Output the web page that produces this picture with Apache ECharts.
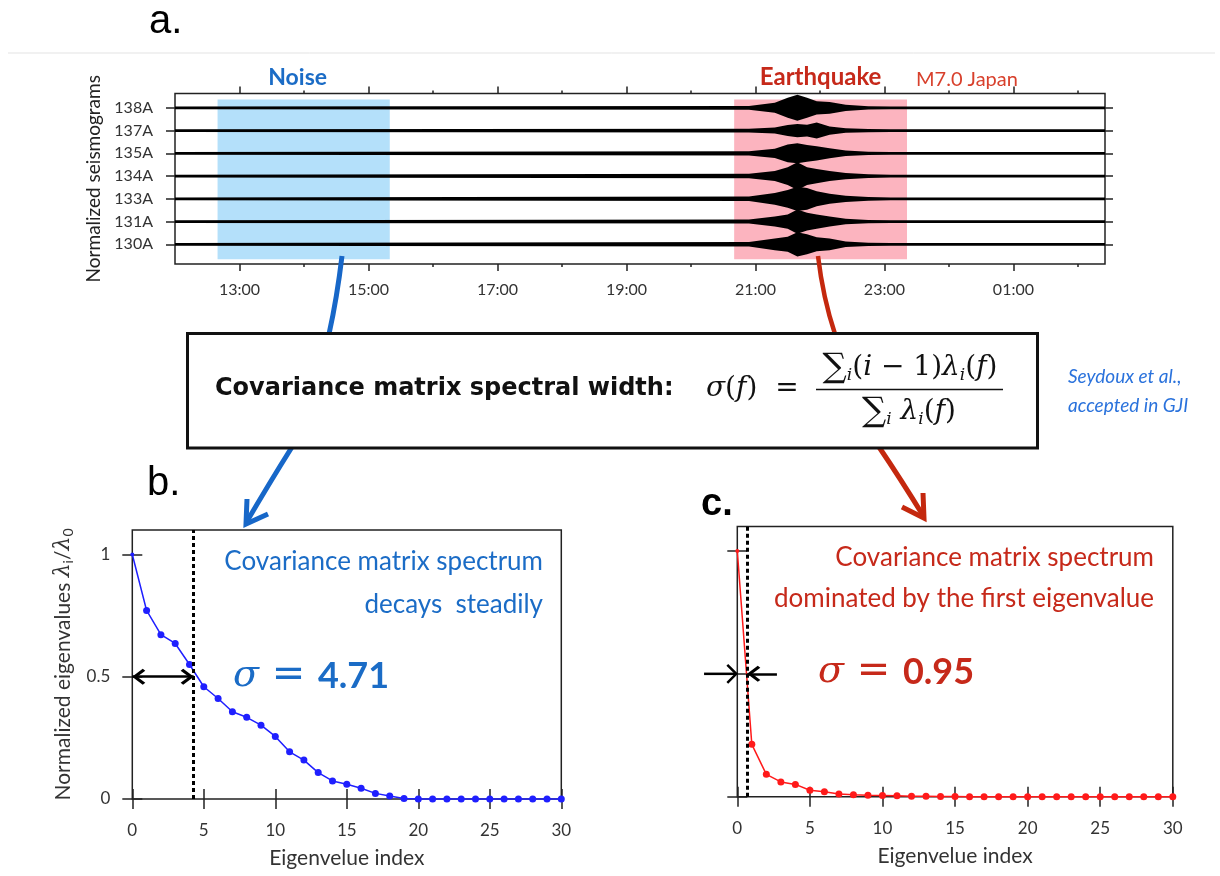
<!DOCTYPE html>
<html>
<head>
<meta charset="utf-8">
<script src="https://cdn.jsdelivr.net/npm/echarts@6/dist/echarts.min.js"></script>
<style>
  html, body { margin: 0; padding: 0; background: #fff; }
  #main { width: 1220px; height: 876px; }
</style>
</head>
<body>
<div id="main"></div>
<script>
// ---- panel a: seismograms (envelope, half-amplitude in trace units) ----
const stations = ['130A', '131A', '133A', '134A', '135A', '137A', '138A'] // bottom -> top
const envTimes = [12.0, 20.9, 21.3, 21.5, 21.65, 21.8, 21.95, 22.15, 22.4, 22.75, 23.1, 26.42]
const amp130A = [0.06, 0.10, 0.26, 0.33, 0.53, 0.44, 0.31, 0.26, 0.12, 0.07, 0.06, 0.06]
const amp131A = [0.06, 0.09, 0.22, 0.31, 0.53, 0.39, 0.31, 0.22, 0.12, 0.07, 0.06, 0.06]
const amp133A = [0.06, 0.10, 0.26, 0.39, 0.53, 0.48, 0.33, 0.22, 0.14, 0.08, 0.06, 0.06]
const amp134A = [0.06, 0.10, 0.22, 0.39, 0.61, 0.39, 0.31, 0.22, 0.14, 0.08, 0.06, 0.06]
const amp135A = [0.06, 0.09, 0.20, 0.39, 0.44, 0.37, 0.31, 0.22, 0.12, 0.07, 0.06, 0.06]
const amp137A = [0.06, 0.08, 0.13, 0.24, 0.29, 0.26, 0.35, 0.18, 0.10, 0.07, 0.06, 0.06]
const amp138A = [0.06, 0.08, 0.22, 0.44, 0.57, 0.44, 0.29, 0.26, 0.14, 0.07, 0.06, 0.06]
const envelopes = [amp130A, amp131A, amp133A, amp134A, amp135A, amp137A, amp138A]
const hourMajor = [13, 15, 17, 19, 21, 23, 25]
const hourMinor = [14, 16, 18, 20, 22, 24, 26]
const noiseWin = [12.66, 15.33]
const quakeWin = [20.67, 23.35]

// ---- panels b and c: normalized eigenvalues ----
const eigIndex = Array.from({ length: 31 }, (_, i) => i)
const noiseEig = [1.0, 0.771, 0.672, 0.636, 0.550, 0.459, 0.411, 0.357, 0.334, 0.302, 0.256,
  0.193, 0.159, 0.108, 0.074, 0.060, 0.044, 0.023, 0.012, 0.002, 0, 0, 0, 0, 0, 0, 0, 0, 0, 0, 0]
const quakeEig = [1.0, 0.213, 0.091, 0.060, 0.050, 0.026, 0.020, 0.011, 0.008, 0.006, 0.005,
  0.004, 0.002, 0.002, 0.001, 0.001, 0, 0, 0, 0, 0, 0, 0, 0, 0, 0, 0, 0, 0, 0, 0]
const eigTicks = [0, 0.5, 1]
const noiseSigmaX = 4.29
const quakeSigmaX = 0.69

const BLUE = '#1b6cc6'
const RED = '#c6291a'
const chevron = 'path://M0,-12 M0,0L10,10L7.6,12.4L0,4.8L-7.6,12.4L-10,10Z'

const myChart = echarts.init(document.getElementById('main'))

const hourLabel = (v) => String(v % 24).padStart(2, '0') + ':00'

const noAxisLine = { show: false }
const noSplit = { show: false }
const tickLine = { color: '#222', width: 1.5 }

function tickAxis(extra) {
  return Object.assign({
    type: 'value',
    axisLine: noAxisLine,
    splitLine: noSplit,
    axisLabel: { show: false },
  }, extra)
}

const option = {
  animation: false,
  backgroundColor: '#fff',
  textStyle: { fontFamily: 'Lato' },
  grid: [
    { left: 175, top: 93.5, width: 930, height: 170.5, show: true, borderColor: '#222', borderWidth: 1.5 },
    { left: 132.3, top: 530, width: 429, height: 269, show: true, borderColor: '#222', borderWidth: 1.5 },
    { left: 737.3, top: 526.4, width: 435.5, height: 270.3, show: true, borderColor: '#222', borderWidth: 1.5 },
  ],
  xAxis: [
    // seismogram time axis (bottom, labelled at odd hours)
    tickAxis({
      gridIndex: 0, position: 'bottom', min: 12, max: 26.42,
      axisTick: { customValues: hourMajor, length: 7, lineStyle: tickLine },
      axisLabel: { show: true, customValues: hourMajor, formatter: hourLabel, fontSize: 16, color: '#333', margin: 18 },
    }),
    tickAxis({
      gridIndex: 0, position: 'bottom', min: 12, max: 26.42,
      axisTick: { customValues: hourMinor, length: 3, lineStyle: tickLine },
    }),
    tickAxis({
      gridIndex: 0, position: 'top', min: 12, max: 26.42,
      axisTick: { customValues: hourMajor, length: 7, lineStyle: tickLine },
    }),
    tickAxis({
      gridIndex: 0, position: 'top', min: 12, max: 26.42,
      axisTick: { customValues: hourMinor, length: 3, lineStyle: tickLine },
    }),
    // panel b
    tickAxis({
      gridIndex: 1, position: 'bottom', min: 0, max: 30, interval: 5,
      axisTick: { length: 10, lineStyle: tickLine },
      axisLabel: { show: true, fontSize: 17, color: '#333', margin: 23 },
      name: 'Eigenvelue index', nameLocation: 'middle', nameGap: 49,
      nameTextStyle: { fontSize: 21, color: '#333' },
    }),
    tickAxis({
      gridIndex: 1, position: 'top', min: 0, max: 30, interval: 5,
      axisTick: { length: 10, lineStyle: tickLine },
    }),
    // panel c
    tickAxis({
      gridIndex: 2, position: 'bottom', min: 0, max: 30, interval: 5,
      axisTick: { length: 10, lineStyle: tickLine },
      axisLabel: { show: true, fontSize: 17, color: '#333', margin: 23 },
      name: 'Eigenvelue index', nameLocation: 'middle', nameGap: 49,
      nameTextStyle: { fontSize: 21, color: '#333' },
    }),
    tickAxis({
      gridIndex: 2, position: 'top', min: 0, max: 30, interval: 5,
      axisTick: { length: 10, lineStyle: tickLine },
    }),
  ],
  yAxis: [
    tickAxis({
      gridIndex: 0, position: 'left', min: 0.135, max: 7.63,
      axisTick: { customValues: [1, 2, 3, 4, 5, 6, 7], length: 9, lineStyle: tickLine },
      axisLabel: {
        show: true, customValues: [1, 2, 3, 4, 5, 6, 7],
        formatter: (v) => stations[Math.round(v) - 1], fontSize: 16, color: '#333', margin: 22,
      },
      name: 'Normalized seismograms', nameLocation: 'middle', nameGap: 67,
      nameTextStyle: { fontSize: 19, color: '#222' },
    }),
    tickAxis({
      gridIndex: 0, position: 'right', min: 0.135, max: 7.63,
      axisTick: { customValues: [1, 2, 3, 4, 5, 6, 7], length: 8, lineStyle: tickLine },
    }),
    tickAxis({
      gridIndex: 1, position: 'left', min: 0, max: 1.1,
      axisTick: { customValues: eigTicks, length: 10, lineStyle: tickLine },
      axisLabel: { show: true, customValues: eigTicks, fontSize: 17, color: '#333', margin: 22 },
      name: '{t|Normalized eigenvalues }{m|λ}{s|i}{t|/}{m|λ}{s|0}', nameLocation: 'middle', nameGap: 57,
      nameTextStyle: {
        rich: {
          t: { fontSize: 21, color: '#333', fontFamily: 'Lato' },
          m: { fontSize: 22, color: '#333', fontFamily: 'DejaVu Serif', fontStyle: 'italic' },
          s: { fontSize: 14, color: '#333', fontFamily: 'Lato', padding: [11, 0, 0, 0] },
        },
      },
    }),
    tickAxis({
      gridIndex: 1, position: 'right', min: 0, max: 1.1,
      axisTick: { customValues: eigTicks, length: 10, lineStyle: tickLine },
    }),
    tickAxis({
      gridIndex: 2, position: 'left', min: 0, max: 1.1,
      axisTick: { customValues: eigTicks, length: 10, lineStyle: tickLine },
    }),
    tickAxis({
      gridIndex: 2, position: 'right', min: 0, max: 1.1,
      axisTick: { customValues: eigTicks, length: 10, lineStyle: tickLine },
    }),
  ],
  series: [
    // analysis windows
    {
      type: 'line', xAxisIndex: 0, yAxisIndex: 0, data: [], z: 1, silent: true,
      markArea: {
        silent: true,
        data: [
          [{ xAxis: noiseWin[0], yAxis: 0.34, itemStyle: { color: '#b4e0fa', opacity: 1 },
             label: { show: true, position: 'top', distance: 10, offset: [-6, 0], formatter: 'Noise', color: BLUE, fontSize: 23, fontWeight: 'bold' } },
           { xAxis: noiseWin[1], yAxis: 7.37 }],
          [{ xAxis: quakeWin[0], yAxis: 0.34, itemStyle: { color: '#fcb4bf', opacity: 1 },
             label: { show: true, position: 'top', distance: 10, formatter: 'Earthquake', color: RED, fontSize: 24, fontWeight: 'bold' } },
           { xAxis: quakeWin[1], yAxis: 7.37 }],
        ],
      },
    },
    // seismogram traces drawn as amplitude envelopes around each baseline
    {
      type: 'custom', xAxisIndex: 0, yAxisIndex: 0, z: 3, silent: true,
      data: stations.map((s, k) => [12, k + 1]),
      renderItem: (params, api) => {
        const base = api.value(1)
        const amps = envelopes[params.dataIndex]
        const top = envTimes.map((t, j) => api.coord([t, base + amps[j]]))
        const bottom = envTimes.map((t, j) => api.coord([t, base - amps[j]])).reverse()
        return { type: 'polygon', shape: { points: top.concat(bottom) }, style: { fill: '#000' } }
      },
    },
    // panel b
    {
      type: 'line', xAxisIndex: 4, yAxisIndex: 2, clip: false, z: 4,
      data: eigIndex.map((i) => [i, noiseEig[i]]),
      symbol: 'circle',
      symbolSize: (v, p) => (p.dataIndex === 0 ? 4 : 7),
      lineStyle: { color: '#1f1fff', width: 1.5 },
      itemStyle: { color: '#1f1fff' },
      markLine: {
        silent: true, symbol: 'none', label: { show: false },
        data: [
          { xAxis: noiseSigmaX, lineStyle: { color: '#000', width: 3, type: [4, 3] } },
          [{ coord: [0, 0.5], symbol: chevron, symbolSize: [16, 26], lineStyle: { color: '#000', width: 2.5, type: 'solid' } },
           { coord: [noiseSigmaX, 0.5], symbol: chevron, symbolSize: [16, 26] }],
        ],
      },
    },
    // panel c
    {
      type: 'line', xAxisIndex: 6, yAxisIndex: 4, clip: false, z: 4,
      data: eigIndex.map((i) => [i, quakeEig[i]]),
      symbol: 'circle',
      symbolSize: (v, p) => (p.dataIndex === 0 ? 4 : 7),
      lineStyle: { color: '#ff1a1a', width: 1.5 },
      itemStyle: { color: '#ff1a1a' },
      markLine: {
        silent: true, symbol: 'none', label: { show: false },
        data: [
          { xAxis: quakeSigmaX, lineStyle: { color: '#000', width: 3, type: [4, 3] } },
          [{ coord: [2.73, 0.5], symbol: 'none', lineStyle: { color: '#000', width: 2.5, type: 'solid' } },
           { coord: [quakeSigmaX, 0.5], symbol: chevron, symbolSize: [16, 26] }],
        ],
      },
    },
  ],
}

myChart.setOption(option)

// annotation layer: labels, formula box and the linking arrows
const leftArrowFrom = myChart.convertToPixel({ gridIndex: 2 }, [-2.29, 0.5])
const leftArrowTo = myChart.convertToPixel({ gridIndex: 2 }, [0, 0.5])

function txt(x, y, text, style) {
  return {
    type: 'text', x: x, y: y, z: 50,
    style: Object.assign({ text: text, textAlign: 'left', textVerticalAlign: 'middle', align: 'left', verticalAlign: 'middle' }, style),
  }
}

const mathRich = {
  i: { fontFamily: 'DejaVu Serif', fontStyle: 'italic', fontSize: 28, fill: '#111' },
  r: { fontFamily: 'DejaVu Serif', fontSize: 28, fill: '#111' },
  g: { fontFamily: 'DejaVu Serif', fontSize: 34, fill: '#111' },
  s: { fontFamily: 'DejaVu Serif', fontStyle: 'italic', fontSize: 17, fill: '#111', padding: [16, 0, 0, 0] },
}

myChart.setOption({
  graphic: [
    { type: 'line', z: 0, shape: { x1: 8, y1: 53, x2: 1215, y2: 53 }, style: { stroke: '#e3e3e3', lineWidth: 1 } },
    txt(149, 22, 'a.', { font: '40px "Liberation Sans"', fill: '#000' }),
    txt(147, 484, 'b.', { font: '40px "Liberation Sans"', fill: '#000' }),
    txt(701, 505, 'c.', { font: 'bold 38px "Liberation Sans"', fill: '#000' }),
    txt(916, 80, 'M7.0 Japan', { font: '20px Lato', fill: '#d8402c' }),

    // arrows from the windows to the panels
    { type: 'bezierCurve', z: 5, shape: { x1: 342, y1: 256, x2: 329, y2: 334, cpx1: 337, cpy1: 298 },
      style: { stroke: '#1767c8', lineWidth: 5, fill: null } },
    { type: 'bezierCurve', z: 5, shape: { x1: 292, y1: 447, x2: 246, y2: 523, cpx1: 270, cpy1: 482 },
      style: { stroke: '#1767c8', lineWidth: 5, fill: null } },
    { type: 'polyline', z: 5, shape: { points: [[268, 514], [246, 524], [247, 499]] },
      style: { stroke: '#1767c8', lineWidth: 5, fill: null } },
    { type: 'bezierCurve', z: 5, shape: { x1: 818, y1: 256, x2: 835, y2: 334, cpx1: 823, cpy1: 298 },
      style: { stroke: '#c4280e', lineWidth: 4.5, fill: null } },
    { type: 'bezierCurve', z: 5, shape: { x1: 879, y1: 447, x2: 924, y2: 517, cpx1: 900, cpy1: 478 },
      style: { stroke: '#c4280e', lineWidth: 5, fill: null } },
    { type: 'polyline', z: 5, shape: { points: [[902, 507], [924, 518], [923, 493]] },
      style: { stroke: '#c4280e', lineWidth: 5, fill: null } },

    // formula box
    { type: 'rect', z: 10, shape: { x: 187.5, y: 333.5, width: 850, height: 114.5 },
      style: { fill: '#fff', stroke: '#111', lineWidth: 3 } },
    txt(215, 389, 'Covariance matrix spectral width:', { font: 'bold 24px "DejaVu Sans"', fill: '#111' }),
    txt(706, 389, '{i|σ}{r|(}{i|f}{r|)  =}', { fill: '#111', rich: mathRich }),
    txt(910, 368, '{g|∑}{s|i}{r|(}{i|i}{r| − 1)}{i|λ}{s|i}{r|(}{i|f}{r|)}', {
      textAlign: 'center', align: 'center', fill: '#111', rich: mathRich,
    }),
    { type: 'line', z: 11, shape: { x1: 816, y1: 389.5, x2: 1003, y2: 389.5 }, style: { stroke: '#111', lineWidth: 1.5 } },
    txt(909, 412, '{g|∑}{s|i}{r| }{i|λ}{s|i}{r|(}{i|f}{r|)}', {
      textAlign: 'center', align: 'center', fill: '#111', rich: mathRich,
    }),
    txt(1068, 377, 'Seydoux et al.,', { font: 'italic 19px Lato', fill: '#2a72dc' }),
    txt(1068, 406, 'accepted in GJI', { font: 'italic 19px Lato', fill: '#2a72dc' }),

    // panel b notes
    txt(543, 562, 'Covariance matrix spectrum', { textAlign: 'right', align: 'right', font: '26px Lato', fill: BLUE }),
    txt(543, 605, 'decays  steadily', { textAlign: 'right', align: 'right', font: '26px Lato', fill: BLUE }),
    txt(233, 676, '{s|σ}{e| = }{n|4.71}', {
      fill: BLUE,
      rich: {
        s: { fontFamily: 'DejaVu Serif', fontStyle: 'italic', fontSize: 38, fill: BLUE },
        e: { fontFamily: 'DejaVu Sans', fontSize: 40, fill: BLUE },
        n: { fontFamily: 'Lato', fontWeight: 'bold', fontSize: 36, fill: BLUE },
      },
    }),

    // panel c notes
    txt(1154, 558, 'Covariance matrix spectrum', { textAlign: 'right', align: 'right', font: '26px Lato', fill: RED }),
    txt(1154, 599, 'dominated by the first eigenvalue', { textAlign: 'right', align: 'right', font: '26px Lato', fill: RED }),
    txt(818, 672, '{s|σ}{e| = }{n|0.95}', {
      fill: RED,
      rich: {
        s: { fontFamily: 'DejaVu Serif', fontStyle: 'italic', fontSize: 38, fill: RED },
        e: { fontFamily: 'DejaVu Sans', fontSize: 40, fill: RED },
        n: { fontFamily: 'Lato', fontWeight: 'bold', fontSize: 36, fill: RED },
      },
    }),
    // outer arrow of panel c (starts left of the axis)
    { type: 'line', z: 6, shape: { x1: leftArrowFrom[0], y1: leftArrowFrom[1], x2: leftArrowTo[0] - 2, y2: leftArrowTo[1] },
      style: { stroke: '#000', lineWidth: 2.5 } },
    { type: 'polyline', z: 6,
      shape: { points: [[leftArrowTo[0] - 10, leftArrowTo[1] - 9], [leftArrowTo[0] - 1, leftArrowTo[1]], [leftArrowTo[0] - 10, leftArrowTo[1] + 9]] },
      style: { stroke: '#000', lineWidth: 2.5, fill: null } },
  ],
})

window.addEventListener('resize', () => myChart.resize())
</script>
</body>
</html>
